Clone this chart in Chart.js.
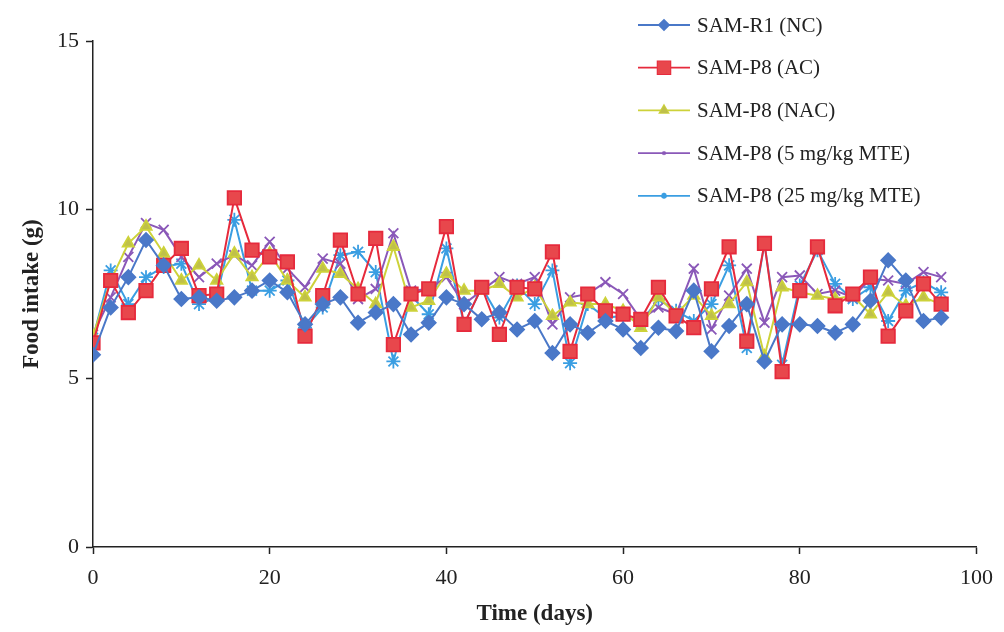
<!DOCTYPE html>
<html>
<head>
<meta charset="utf-8">
<title>Food intake</title>
<script src="https://cdn.jsdelivr.net/npm/chart.js@4.4.1/dist/chart.umd.min.js"></script>
<style>
    html, body { margin: 0; padding: 0; background: #fff; }
    #wrap { width: 1004px; height: 632px; }
</style>
</head>
<body>
<div id="wrap"><canvas id="grafico" width="1004" height="632"></canvas></div>
<script>
// days of measurement
const dias = [0, 2, 4, 6, 8, 10, 12, 14, 16, 18, 20, 22, 24, 26, 28, 30, 32, 34, 36, 38, 40, 42, 44, 46, 48,
    50, 52, 54, 56, 58, 60, 62, 64, 66, 68, 70, 72, 74, 76, 78, 80, 82, 84, 86, 88, 90, 92, 94, 96];

// food intake (g) per group
const samR1NC = [5.7, 7.1, 8.0, 9.1, 8.35, 7.35, 7.4, 7.3, 7.4, 7.6, 7.9, 7.55, 6.6, 7.2, 7.4, 6.65, 6.95, 7.2, 6.3, 6.65, 7.4, 7.2, 6.75, 6.95, 6.45,
    6.7, 5.75, 6.6, 6.35, 6.7, 6.45, 5.9, 6.5, 6.4, 7.6, 5.8, 6.55, 7.2, 5.5, 6.6, 6.6, 6.55, 6.35, 6.6, 7.3, 8.5, 7.9, 6.7, 6.8];
const samP8AC = [6.05, 7.9, 6.95, 7.6, 8.35, 8.85, 7.45, 7.5, 10.35, 8.8, 8.6, 8.45, 6.25, 7.45, 9.1, 7.5, 9.15, 6.0, 7.5, 7.65, 9.5, 6.6, 7.7, 6.3, 7.7,
    7.65, 8.75, 5.8, 7.5, 7.0, 6.9, 6.75, 7.7, 6.85, 6.5, 7.65, 8.9, 6.1, 9.0, 5.2, 7.6, 8.9, 7.15, 7.5, 8.0, 6.25, 7.0, 7.8, 7.2];
const samP8NAC = [6.25, 7.9, 9.0, 9.5, 8.7, 7.9, 8.35, 7.9, 8.7, 8.0, 8.7, 7.9, 7.4, 8.25, 8.1, 7.65, 7.2, 8.9, 7.1, 7.3, 8.1, 7.6, 7.6, 7.8, 7.4,
    7.7, 6.85, 7.25, 7.2, 7.2, 7.0, 6.5, 7.4, 6.9, 7.45, 6.85, 7.2, 7.85, 5.65, 7.7, 7.55, 7.45, 7.35, 7.45, 6.9, 7.55, 7.15, 7.4, 7.2];
const samP8Mte5 = [6.3, 7.4, 8.6, 9.6, 9.4, 8.6, 8.0, 8.4, 8.65, 8.35, 9.05, 8.25, 7.7, 8.55, 8.4, 7.35, 7.65, 9.3, 7.6, 7.65, 8.0, 7.2, 7.6, 8.0, 7.8,
    8.0, 6.6, 7.4, 7.5, 7.85, 7.5, 6.75, 7.1, 6.9, 8.25, 6.45, 7.45, 8.25, 6.65, 8.0, 8.05, 7.5, 7.6, 7.4, 7.95, 7.9, 7.8, 8.15, 8.0];
const samP8Mte25 = [6.2, 8.2, 7.2, 8.0, 8.3, 8.4, 7.2, 7.4, 9.7, 7.6, 7.6, 7.9, 6.5, 7.1, 8.65, 8.75, 8.15, 5.5, 7.45, 6.9, 8.85, 6.6, 7.7, 6.8, 7.75,
    7.2, 8.2, 5.45, 7.2, 6.8, 6.85, 6.65, 7.35, 7.0, 6.7, 7.2, 8.35, 5.9, 9.0, 5.4, 7.75, 8.8, 7.8, 7.35, 7.7, 6.7, 7.6, 7.85, 7.55];

const xTicks = [0, 20, 40, 60, 80, 100];
const yTicks = [0, 5, 10, 15];

const serie = (valores) => valores.map((v, i) => ({ x: dias[i], y: v }));

const fuente = "'Liberation Serif', 'Times New Roman', serif";

const grupos = [
    { label: 'SAM-R1 (NC)', data: samR1NC, color: '#4a78c8', fill: '#4a78c8', estilo: 'rectRot', radio: 7, radioLeyenda: 5 },
    { label: 'SAM-P8 (AC)', data: samP8AC, color: '#e62a3c', fill: '#e8474c', estilo: 'rect', radio: 9.5, radioLeyenda: 9 },
    { label: 'SAM-P8 (NAC)', data: samP8NAC, color: '#cdd23a', fill: '#bfc04a', estilo: 'triangle', radio: 6.5, radioLeyenda: 5 },
    { label: 'SAM-P8 (5 mg/kg MTE)', data: samP8Mte5, color: '#8a58b8', fill: '#8a58b8', estilo: 'crossRot', radio: 7, radioLeyenda: 2 },
    { label: 'SAM-P8 (25 mg/kg MTE)', data: samP8Mte25, color: '#3a9ee2', fill: '#3a9ee2', estilo: 'star', radio: 7, radioLeyenda: 3 },
];

// legend drawn by hand, stacked at the top right
const leyenda = {
    id: 'leyenda',
    afterDraw(chart) {
        const ctx = chart.ctx;
        ctx.save();
        grupos.forEach((g, i) => {
            const y = 25 + i * 42.7;
            ctx.strokeStyle = g.color;
            ctx.lineWidth = 1.8;
            ctx.beginPath();
            ctx.moveTo(638, y);
            ctx.lineTo(690, y);
            ctx.stroke();
            ctx.fillStyle = g.fill;
            Chart.helpers.drawPoint(ctx, {
                pointStyle: g.estilo, radius: g.radioLeyenda, borderWidth: 1.5, rotation: 0
            }, 664, y);
            ctx.fill();
            ctx.fillStyle = '#222';
            ctx.font = "21px " + fuente;
            ctx.textBaseline = 'middle';
            ctx.textAlign = 'left';
            ctx.fillText(g.label, 697, y + 1);
        });
        ctx.restore();
    }
};

new Chart(document.getElementById('grafico'), {
    type: 'line',
    data: {
        datasets: grupos.map(g => ({
            label: g.label,
            data: serie(g.data),
            borderColor: g.color,
            backgroundColor: g.fill,
            pointBorderColor: g.color,
            pointBackgroundColor: g.fill,
            pointStyle: g.estilo,
            pointRadius: g.radio,
            pointBorderWidth: 1.8,
            borderWidth: 2,
            tension: 0,
            fill: false
        }))
    },
    options: {
        responsive: false,
        animation: false,
        events: [],
        layout: { padding: { top: 41, right: 27, left: 0, bottom: 0 } },
        plugins: { legend: { display: false }, tooltip: { enabled: false } },
        scales: {
            x: {
                type: 'linear',
                min: 0,
                max: 100,
                afterFit: (s) => { s.height = 85; },
                afterBuildTicks: (s) => { s.ticks = xTicks.map(v => ({ value: v })); },
                ticks: { color: '#222', font: { family: fuente, size: 22 }, padding: 11, maxRotation: 0 },
                grid: { drawOnChartArea: false, drawTicks: true, tickLength: 7, tickColor: '#222', tickWidth: 1.5 },
                border: { display: true, color: '#222', width: 1.5 },
                title: { display: true, text: 'Time (days)', color: '#222', font: { family: fuente, size: 23, weight: 'bold' }, padding: { top: 0, bottom: 4 } }
            },
            y: {
                min: 0,
                max: 15,
                afterFit: (s) => { s.width = 93; },
                afterBuildTicks: (s) => { s.ticks = yTicks.map(v => ({ value: v })); },
                ticks: { color: '#222', font: { family: fuente, size: 22 }, padding: 7 },
                grid: { drawOnChartArea: false, drawTicks: true, tickLength: 7, tickColor: '#222', tickWidth: 1.5 },
                border: { display: true, color: '#222', width: 1.5 },
                title: { display: true, text: 'Food intake (g)', color: '#222', font: { family: fuente, size: 23, weight: 'bold' }, padding: { top: 18, bottom: 0 } }
            }
        }
    },
    plugins: [leyenda]
});
</script>
</body>
</html>
